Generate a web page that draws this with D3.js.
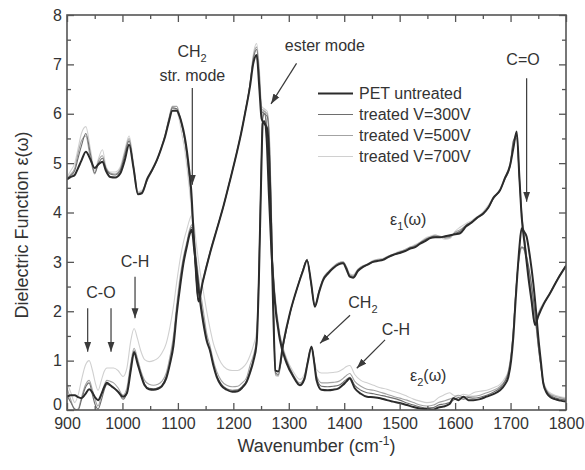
<!DOCTYPE html>
<html>
<head>
<meta charset="utf-8">
<script src="https://cdn.jsdelivr.net/npm/d3@7"></script>
<style>
  html, body { margin: 0; padding: 0; background: #ffffff; }
  svg { display: block; }
</style>
</head>
<body>
<svg id="chart" width="585" height="470"></svg>
<script>
// ---- Dielectric function of PET: real part ε1(ω) ----
const e1Wavenumber = [
  900, 907, 914, 920, 926, 934, 942, 950, 957, 964,
  970, 978, 987, 996, 1004, 1012, 1020, 1028, 1035, 1045,
  1053, 1062, 1070, 1077, 1084, 1090, 1098, 1103, 1107, 1112,
  1116, 1120, 1124, 1128, 1132, 1137, 1145, 1158, 1170, 1182,
  1194, 1206, 1214, 1221, 1230, 1236, 1242, 1247, 1251, 1256,
  1261, 1265, 1268, 1272, 1276, 1281, 1290, 1302, 1316, 1325,
  1333, 1340, 1347, 1355, 1362, 1372, 1380, 1390, 1398, 1404,
  1410, 1416, 1425, 1434, 1443, 1452, 1461, 1470, 1480, 1488,
  1500, 1510, 1519, 1528, 1537, 1546, 1555, 1564, 1573, 1582,
  1591, 1600, 1609, 1620, 1630, 1640, 1651, 1660, 1669, 1681,
  1690, 1699, 1705, 1711, 1716, 1720, 1726, 1732, 1738, 1744,
  1750, 1760, 1771, 1785, 1800
];
const e1Untreated = [
  4.67, 4.72, 4.76, 4.9, 5.05, 5.23, 5.08, 4.9, 4.98, 5.03,
  4.85, 4.72, 4.71, 4.79, 5.05, 5.37, 4.9, 4.37, 4.39, 4.69,
  4.85, 5.06, 5.3, 5.54, 5.85, 6.06, 6.06, 5.95, 5.8, 5.55,
  5.27, 4.9, 4.46, 3.65, 2.9, 2.2, 2.6, 3.18, 3.65, 4.12,
  4.65, 5.2, 5.6, 6.0, 6.55, 7.02, 7.19, 6.5, 5.9, 5.8,
  5.7, 5.0, 3.8, 2.0, 0.8, 0.78, 1.35, 1.96, 2.5, 2.8,
  3.03, 2.6, 2.09, 2.4, 2.63, 2.78, 2.87, 2.95, 2.97, 2.85,
  2.7, 2.68, 2.82, 2.9, 2.95, 3.0, 3.02, 3.04, 3.1, 3.14,
  3.18, 3.22, 3.27, 3.3, 3.37, 3.42, 3.48, 3.5, 3.5, 3.52,
  3.54, 3.56, 3.58, 3.72, 3.8, 3.9, 3.98, 4.1, 4.3, 4.45,
  4.7, 4.95, 5.3, 5.64, 4.7, 3.92, 3.3, 2.7, 2.2, 1.72,
  1.9, 2.15, 2.36, 2.65, 2.92
];
const e1V300 = [
  4.68, 4.75, 4.85, 5.1, 5.35, 5.6, 5.2, 4.8, 5.0, 5.1,
  4.9, 4.78, 4.76, 4.85, 5.15, 5.45, 4.9, 4.37, 4.4, 4.68,
  4.85, 5.05, 5.3, 5.55, 5.88, 6.12, 6.1, 5.95, 5.78, 5.5,
  5.2, 4.8, 4.35, 3.6, 2.85, 2.2, 2.6, 3.18, 3.65, 4.12,
  4.65, 5.2, 5.6, 6.0, 6.58, 7.1, 7.3, 6.7, 6.05, 6.0,
  5.95, 5.4, 4.2, 2.2, 0.75, 0.72, 1.3, 1.95, 2.5, 2.82,
  3.05, 2.58, 2.1, 2.42, 2.65, 2.8, 2.88, 2.96, 2.98, 2.88,
  2.72, 2.7, 2.84, 2.9, 2.94, 3.0, 3.03, 3.05, 3.1, 3.14,
  3.2, 3.22, 3.28, 3.32, 3.38, 3.45, 3.5, 3.52, 3.5, 3.5,
  3.52, 3.58, 3.62, 3.75, 3.8, 3.88, 3.98, 4.1, 4.28, 4.45,
  4.68, 4.92, 5.45, 5.55, 4.65, 3.95, 3.35, 2.75, 2.25, 1.75,
  1.92, 2.15, 2.36, 2.65, 2.92
];
const e1V500 = [
  4.7, 4.78, 4.9, 5.2, 5.45, 5.55, 5.1, 4.78, 5.05, 5.15,
  4.9, 4.8, 4.78, 4.88, 5.2, 5.5, 4.95, 4.4, 4.42, 4.66,
  4.84, 5.05, 5.32, 5.58, 5.92, 6.15, 6.15, 5.98, 5.78, 5.48,
  5.15, 4.75, 4.3, 3.55, 2.85, 2.22, 2.62, 3.2, 3.66, 4.13,
  4.66, 5.22, 5.62, 6.02, 6.6, 7.15, 7.35, 6.8, 6.1, 6.05,
  6.0, 5.5, 4.3, 2.3, 0.72, 0.7, 1.3, 1.95, 2.5, 2.82,
  3.05, 2.58, 2.12, 2.42, 2.66, 2.8, 2.9, 2.98, 3.0, 2.9,
  2.74, 2.72, 2.85, 2.92, 2.96, 3.02, 3.05, 3.06, 3.12, 3.15,
  3.2, 3.25, 3.3, 3.33, 3.4, 3.46, 3.5, 3.54, 3.52, 3.48,
  3.5, 3.6, 3.65, 3.74, 3.82, 3.9, 4.0, 4.12, 4.28, 4.45,
  4.7, 4.95, 5.4, 5.5, 4.7, 4.0, 3.4, 2.8, 2.25, 1.78,
  1.95, 2.17, 2.37, 2.66, 2.93
];
const e1V700 = [
  4.72, 4.85, 5.0, 5.3, 5.6, 5.74, 5.3, 4.85, 5.1, 5.27,
  4.95, 4.82, 4.82, 4.92, 5.25, 5.55, 5.0, 4.42, 4.45, 4.65,
  4.83, 5.04, 5.3, 5.55, 5.9, 6.12, 6.05, 5.85, 5.6, 5.3,
  4.95, 4.55, 4.1, 3.5, 2.8, 2.25, 2.65, 3.2, 3.66, 4.12,
  4.65, 5.2, 5.6, 6.0, 6.6, 7.2, 7.42, 6.9, 6.15, 6.1,
  6.05, 5.6, 4.4, 2.4, 0.7, 0.68, 1.28, 1.95, 2.5, 2.82,
  3.05, 2.55, 2.15, 2.45, 2.68, 2.82, 2.9, 2.98, 3.0, 2.9,
  2.76, 2.74, 2.86, 2.92, 2.95, 3.03, 3.04, 3.07, 3.12, 3.16,
  3.22, 3.24, 3.3, 3.35, 3.4, 3.48, 3.52, 3.55, 3.5, 3.46,
  3.48, 3.62, 3.7, 3.78, 3.84, 3.92, 4.02, 4.15, 4.3, 4.48,
  4.72, 4.98, 5.45, 5.52, 4.75, 4.05, 3.45, 2.82, 2.28, 1.8,
  1.98, 2.18, 2.38, 2.66, 2.93
];

// ---- Imaginary part ε2(ω) ----
const e2Wavenumber = [
  900, 907, 914, 920, 926, 933, 940, 946, 951, 956,
  962, 967, 972, 978, 984, 992, 1001, 1008, 1015, 1021,
  1027, 1033, 1040, 1048, 1056, 1064, 1071, 1079, 1086, 1092,
  1098, 1104, 1110, 1116, 1121, 1125, 1129, 1134, 1140, 1146,
  1152, 1158, 1164, 1170, 1178, 1188, 1198, 1208, 1216, 1224,
  1230, 1236, 1242, 1246, 1250, 1253, 1256, 1260, 1264, 1268,
  1274, 1284, 1296, 1308, 1320, 1328, 1334, 1341, 1346, 1350,
  1359, 1370, 1380, 1390, 1398, 1404, 1410, 1419, 1430, 1441,
  1453, 1465, 1477, 1488, 1500, 1513, 1525, 1537, 1549, 1561,
  1570, 1579, 1590, 1597, 1606, 1615, 1624, 1633, 1645, 1657,
  1669, 1681, 1690, 1696, 1701, 1705, 1709, 1712, 1716, 1720,
  1724, 1729, 1735, 1741, 1746, 1750, 1755, 1759, 1765, 1771,
  1780, 1790, 1800
];
const e2Untreated = [
  0.27, 0.3, 0.3, 0.26, 0.24, 0.32, 0.42, 0.35, 0.25, 0.2,
  0.32, 0.46, 0.55, 0.5, 0.45, 0.37, 0.27, 0.34, 0.8, 1.17,
  0.95, 0.72, 0.5, 0.42, 0.41, 0.43, 0.48, 0.64, 0.95, 1.3,
  1.96, 2.5, 2.97, 3.3, 3.55, 3.65, 3.3, 2.8, 2.2, 1.75,
  1.4, 1.2, 0.9, 0.67, 0.5, 0.41, 0.37, 0.38, 0.45, 0.57,
  0.75, 0.98, 1.35, 2.6, 4.6, 5.8, 5.85, 5.5, 4.4, 3.4,
  2.3, 1.42, 0.95, 0.68, 0.5, 0.62, 0.95, 1.28, 0.95, 0.61,
  0.41, 0.4, 0.41, 0.44, 0.51, 0.58, 0.64, 0.44, 0.33, 0.27,
  0.26, 0.24, 0.2, 0.17, 0.14, 0.1, 0.06, 0.03, 0.02, 0.01,
  0.05, 0.07, 0.12, 0.24, 0.2, 0.27, 0.2, 0.2, 0.22, 0.27,
  0.32, 0.4, 0.52, 0.67, 1.0, 1.48, 2.2, 2.7, 3.3, 3.68,
  3.62, 3.51, 3.1, 2.57, 2.0, 1.48, 0.95, 0.54, 0.35, 0.27,
  0.22, 0.19, 0.17
];
const e2V300 = [
  0.3, 0.15, 0.02, 0.0, 0.2, 0.45, 0.55, 0.3, 0.1, 0.02,
  0.2, 0.4, 0.52, 0.5, 0.45, 0.38, 0.22, 0.35, 0.85, 1.2,
  0.98, 0.75, 0.52, 0.44, 0.43, 0.45, 0.5, 0.68, 1.0, 1.4,
  2.05, 2.6, 3.05, 3.35, 3.6, 3.7, 3.4, 2.9, 2.3, 1.85,
  1.45, 1.2, 0.92, 0.7, 0.53, 0.43, 0.4, 0.41, 0.48, 0.6,
  0.8, 1.02, 1.4, 2.7, 4.7, 5.9, 6.0, 5.7, 4.6, 3.55,
  2.4, 1.48, 1.0, 0.7, 0.52, 0.64, 0.96, 1.28, 0.96, 0.66,
  0.48, 0.47, 0.48, 0.5, 0.56, 0.62, 0.66, 0.5, 0.4, 0.35,
  0.33, 0.3, 0.27, 0.24, 0.2, 0.14, 0.1, 0.06, 0.04, 0.05,
  0.1, 0.12, 0.15, 0.2, 0.25, 0.22, 0.25, 0.24, 0.26, 0.3,
  0.36, 0.45, 0.58, 0.75, 1.1, 1.6, 2.3, 2.75, 3.15, 3.3,
  3.28, 3.1, 2.75, 2.25, 1.75, 1.3, 0.85, 0.55, 0.38, 0.3,
  0.25, 0.22, 0.2
];
const e2V500 = [
  0.45, 0.2, 0.0, 0.02, 0.25, 0.5, 0.6, 0.4, 0.2, 0.08,
  0.3, 0.5, 0.6, 0.58, 0.55, 0.45, 0.3, 0.45, 0.95, 1.25,
  1.05, 0.8, 0.6, 0.52, 0.5, 0.52, 0.58, 0.75, 1.1, 1.5,
  2.15, 2.7, 3.1, 3.4, 3.65, 3.75, 3.5, 3.0, 2.45, 2.0,
  1.55, 1.3, 1.0, 0.78, 0.6, 0.5, 0.47, 0.48, 0.55, 0.66,
  0.9, 1.1, 1.45, 2.75, 4.75, 5.95, 6.05, 5.75, 4.65, 3.6,
  2.45, 1.5, 1.02, 0.72, 0.55, 0.66, 0.98, 1.28, 0.98, 0.7,
  0.55, 0.55, 0.56, 0.58, 0.64, 0.7, 0.74, 0.58, 0.48, 0.42,
  0.4, 0.36, 0.32, 0.28, 0.24, 0.2, 0.15, 0.1, 0.08, 0.1,
  0.15, 0.18, 0.22, 0.25, 0.3, 0.26, 0.28, 0.28, 0.3, 0.35,
  0.4, 0.48, 0.6, 0.78, 1.12, 1.6, 2.3, 2.75, 3.1, 3.28,
  3.25, 3.05, 2.7, 2.2, 1.7, 1.28, 0.85, 0.58, 0.4, 0.32,
  0.28, 0.25, 0.22
];
const e2V700 = [
  0.55, 0.35, 0.15, 0.3, 0.6, 0.9, 1.0, 0.8, 0.55, 0.4,
  0.6, 0.78, 0.85, 0.85, 0.85, 0.8, 0.68, 0.85, 1.4, 1.65,
  1.45, 1.2, 1.02, 0.98, 1.0, 1.05, 1.15, 1.35, 1.7, 2.1,
  2.6, 3.05, 3.4, 3.65, 3.85, 3.95, 3.75, 3.3, 2.8, 2.4,
  2.0, 1.65, 1.35, 1.15, 0.95, 0.83, 0.8, 0.8, 0.85, 0.95,
  1.1, 1.3, 1.6, 2.85, 4.8, 6.0, 6.1, 5.8, 4.7, 3.65,
  2.5, 1.55, 1.05, 0.78, 0.62, 0.72, 1.0, 1.3, 1.0, 0.82,
  0.75, 0.75, 0.76, 0.78, 0.83, 0.88, 0.9, 0.72, 0.6, 0.55,
  0.5, 0.45, 0.42, 0.38, 0.34, 0.28, 0.22, 0.18, 0.15, 0.17,
  0.25, 0.3, 0.35, 0.3, 0.28, 0.32, 0.3, 0.35, 0.38, 0.4,
  0.45, 0.52, 0.65, 0.8, 1.15, 1.65, 2.35, 2.8, 3.15, 3.3,
  3.25, 3.05, 2.7, 2.2, 1.72, 1.3, 0.9, 0.6, 0.42, 0.35,
  0.3, 0.27, 0.25
];

const seriesNames = ["PET untreated", "treated V=300V", "treated V=500V", "treated V=700V"];
const xTicks = [900, 1000, 1100, 1200, 1300, 1400, 1500, 1600, 1700, 1800];
const yTicks = [0, 1, 2, 3, 4, 5, 6, 7, 8];

// ---- layout ----
const FONT = '"Liberation Sans", Arial, Helvetica, sans-serif';
const TEXT = "#333333";
const AXIS = "#555555";
const W = 585, H = 470;
const margin = { left: 67, right: 19, top: 15, bottom: 60 };

const svg = d3.select("#chart");
svg.append("rect").attr("width", W).attr("height", H).attr("fill", "#ffffff");

const x = d3.scaleLinear().domain([900, 1800]).range([margin.left, W - margin.right]);
const y = d3.scaleLinear().domain([0, 8]).range([H - margin.bottom, margin.top]);

const seriesStyle = [
  { color: "#2b2b2b", width: 2.0 },
  { color: "#6e6e6e", width: 1.1 },
  { color: "#a3a3a3", width: 1.1 },
  { color: "#d0d0d0", width: 1.1 }
];
const e1Series = [e1Untreated, e1V300, e1V500, e1V700];
const e2Series = [e2Untreated, e2V300, e2V500, e2V700];

// ---- curves ----
svg.append("clipPath").attr("id", "plot-clip")
  .append("rect")
  .attr("x", x(900)).attr("y", y(8))
  .attr("width", x(1800) - x(900)).attr("height", y(0) - y(8));

const line = d3.line()
  .x(d => x(d[0]))
  .y(d => y(d[1]))
  .curve(d3.curveMonotoneX);

const curves = svg.append("g").attr("clip-path", "url(#plot-clip)");
// lightest series first so the untreated film sits on top
for (let i = seriesNames.length - 1; i >= 0; i--) {
  const st = seriesStyle[i];
  [[e1Wavenumber, e1Series[i]], [e2Wavenumber, e2Series[i]]].forEach(([wn, vals]) => {
    curves.append("path")
      .datum(d3.zip(wn, vals))
      .attr("d", line)
      .attr("fill", "none")
      .attr("stroke", st.color)
      .attr("stroke-width", st.width)
      .attr("stroke-linejoin", "round");
  });
}

// ---- axes (ticks point inward on all four sides) ----
function styleAxis(g) {
  g.select(".domain").remove();
  g.selectAll("line").attr("stroke", AXIS).attr("stroke-width", 1.3);
  g.attr("font-family", FONT).attr("font-size", 16);
  g.selectAll("text").attr("fill", TEXT);
}
const xMinor = d3.range(950, 1800, 100);
const yMinor = d3.range(0.5, 8, 1);

svg.append("g").attr("transform", `translate(0,${y(0)})`)
  .call(d3.axisBottom(x).tickValues(xTicks).tickSize(-7).tickPadding(8).tickFormat(d3.format("d")))
  .call(styleAxis);
svg.append("g").attr("transform", `translate(0,${y(0)})`)
  .call(d3.axisBottom(x).tickValues(xMinor).tickSize(-4).tickFormat(""))
  .call(styleAxis);
svg.append("g").attr("transform", `translate(0,${y(8)})`)
  .call(d3.axisTop(x).tickValues(xTicks).tickSize(-7).tickFormat(""))
  .call(styleAxis);
svg.append("g").attr("transform", `translate(0,${y(8)})`)
  .call(d3.axisTop(x).tickValues(xMinor).tickSize(-4).tickFormat(""))
  .call(styleAxis);
svg.append("g").attr("transform", `translate(${x(900)},0)`)
  .call(d3.axisLeft(y).tickValues(yTicks).tickSize(-7).tickPadding(5).tickFormat(d3.format("d")))
  .call(styleAxis)
  // the zero label sits just above the corner, clear of the "900" label
  .selectAll(".tick text").filter(d => d === 0).attr("dy", "-0.05em");
svg.append("g").attr("transform", `translate(${x(900)},0)`)
  .call(d3.axisLeft(y).tickValues(yMinor).tickSize(-4).tickFormat(""))
  .call(styleAxis);
svg.append("g").attr("transform", `translate(${x(1800)},0)`)
  .call(d3.axisRight(y).tickValues(yTicks).tickSize(-7).tickFormat(""))
  .call(styleAxis);
svg.append("g").attr("transform", `translate(${x(1800)},0)`)
  .call(d3.axisRight(y).tickValues(yMinor).tickSize(-4).tickFormat(""))
  .call(styleAxis);

svg.append("rect")
  .attr("x", x(900)).attr("y", y(8))
  .attr("width", x(1800) - x(900)).attr("height", y(0) - y(8))
  .attr("fill", "none").attr("stroke", AXIS).attr("stroke-width", 1.6);

// ---- axis titles ----
const xTitle = svg.append("text")
  .attr("x", (x(900) + x(1800)) / 2).attr("y", 452)
  .attr("text-anchor", "middle")
  .attr("font-family", FONT).attr("font-size", 18).attr("fill", TEXT);
xTitle.append("tspan").text("Wavenumber (cm");
xTitle.append("tspan").attr("font-size", 12).attr("dy", -7).text("-1");
xTitle.append("tspan").attr("dy", 7).text(")");

svg.append("text")
  .attr("transform", `translate(28,225) rotate(-90)`)
  .attr("text-anchor", "middle")
  .attr("font-family", FONT).attr("font-size", 18).attr("fill", TEXT)
  .text("Dielectric Function \u03B5(\u03C9)");

// ---- legend ----
const legend = svg.append("g").attr("font-family", FONT).attr("font-size", 16);
seriesNames.forEach((name, i) => {
  const ly = 93.5 + i * 21;
  legend.append("line")
    .attr("x1", 318).attr("x2", 353).attr("y1", ly).attr("y2", ly)
    .attr("stroke", seriesStyle[i].color).attr("stroke-width", seriesStyle[i].width);
  legend.append("text")
    .attr("x", 359).attr("y", ly).attr("dy", "0.36em")
    .attr("fill", TEXT).text(name);
});

// ---- band assignments and arrows ----
const defs = svg.append("defs");
defs.append("marker")
  .attr("id", "arrow-head")
  .attr("viewBox", "0 -4 10 8")
  .attr("refX", 10).attr("refY", 0)
  .attr("markerUnits", "userSpaceOnUse")
  .attr("markerWidth", 10).attr("markerHeight", 8)
  .attr("orient", "auto")
  .append("path").attr("d", "M0,-3.5L10,0L0,3.5Z").attr("fill", "#3a3a3a");

function arrow(w1, v1, w2, v2) {
  svg.append("line")
    .attr("x1", x(w1)).attr("y1", y(v1))
    .attr("x2", x(w2)).attr("y2", y(v2))
    .attr("stroke", "#3a3a3a").attr("stroke-width", 1.2)
    .attr("marker-end", "url(#arrow-head)");
}
function label(w, v, anchor, parts, size) {
  const t = svg.append("text")
    .attr("x", x(w)).attr("y", y(v))
    .attr("text-anchor", anchor)
    .attr("font-family", FONT).attr("font-size", size || 16).attr("fill", TEXT);
  let shift = 0;
  parts.forEach(p => {
    const s = t.append("tspan").text(p[0]);
    const target = p[1] === "sub" ? 5 : 0;
    if (target !== shift) { s.attr("dy", target - shift); shift = target; }
    if (p[1] === "sub") s.attr("font-size", 11);
  });
}

label(1125.5, 7.15, "middle", [["CH"], ["2", "sub"]]);
label(1126, 6.66, "middle", [["str. mode"]]);
arrow(1126, 6.52, 1126, 4.56);

label(1365, 7.27, "middle", [["ester mode"]]);
arrow(1314, 7.02, 1268, 6.2);

label(1722.5, 6.99, "middle", [["C=O"]]);
arrow(1729, 6.72, 1729, 4.22);

label(1022.7, 2.9, "middle", [["C-H"]]);
arrow(1022.7, 2.7, 1022.7, 1.86);

label(961.3, 2.27, "middle", [["C-O"]]);
arrow(937.3, 2.06, 937.3, 1.18);
arrow(979.4, 2.06, 979.4, 1.18);

label(1407.4, 2.07, "start", [["CH"], ["2", "sub"]]);
arrow(1410.5, 1.92, 1356.3, 1.35);

label(1467.6, 1.52, "start", [["C-H"]]);
arrow(1473.6, 1.42, 1422.6, 0.845);

label(1482.6, 3.75, "start", [["\u03B5"], ["1", "sub"], ["(\u03C9)"]]);
label(1518.7, 0.59, "start", [["\u03B5"], ["2", "sub"], ["(\u03C9)"]]);
</script>
</body>
</html>
